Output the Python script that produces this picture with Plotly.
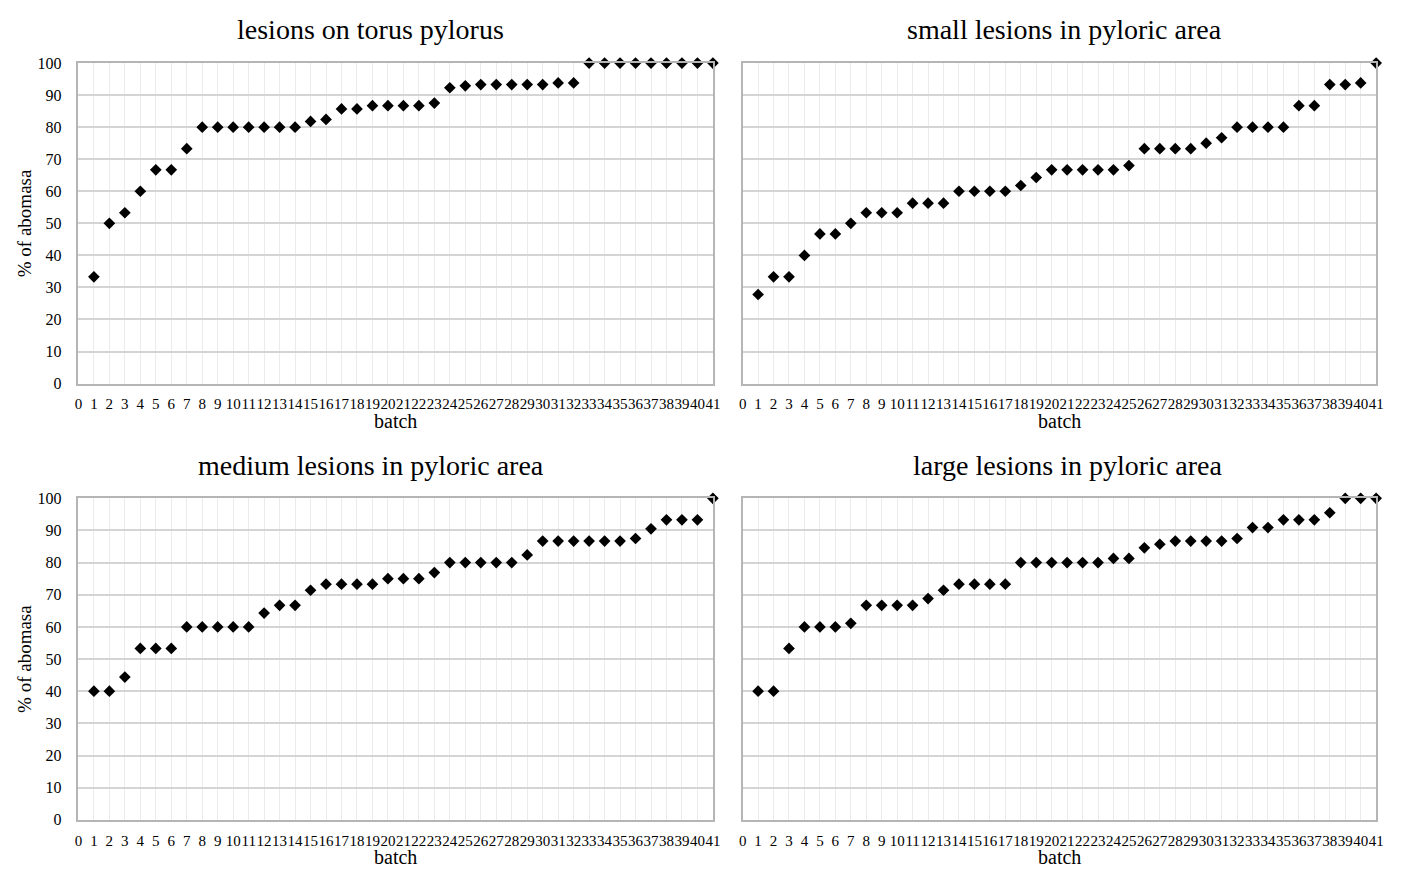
import plotly.graph_objects as go

batches = list(range(1, 42))
x_tick_labels = [str(i) for i in range(0, 42)]
y_tick_values = list(range(0, 101, 10))

titles = [
    "lesions on torus pylorus",
    "small lesions in pyloric area",
    "medium lesions in pyloric area",
    "large lesions in pyloric area",
]

torus_pylorus = [33.3, 50, 53.3, 60, 66.7, 66.7, 73.3, 80, 80, 80, 80, 80, 80, 80,
                 81.8, 82.4, 85.7, 85.7, 86.7, 86.7, 86.7, 86.7, 87.5, 92.3, 92.9,
                 93.3, 93.3, 93.3, 93.3, 93.3, 93.8, 93.8, 100, 100, 100, 100, 100,
                 100, 100, 100, 100]
small_lesions = [27.8, 33.3, 33.3, 40, 46.7, 46.7, 50, 53.3, 53.3, 53.3, 56.3, 56.3,
                 56.3, 60, 60, 60, 60, 61.8, 64.3, 66.7, 66.7, 66.7, 66.7, 66.7, 68,
                 73.3, 73.3, 73.3, 73.3, 75, 76.7, 80, 80, 80, 80, 86.7, 86.7, 93.3,
                 93.3, 93.8, 100]
medium_lesions = [40, 40, 44.4, 53.3, 53.3, 53.3, 60, 60, 60, 60, 60, 64.3, 66.7,
                  66.7, 71.4, 73.3, 73.3, 73.3, 73.3, 75, 75, 75, 76.9, 80, 80, 80,
                  80, 80, 82.4, 86.7, 86.7, 86.7, 86.7, 86.7, 86.7, 87.5, 90.5, 93.3,
                  93.3, 93.3, 100]
large_lesions = [40, 40, 53.3, 60, 60, 60, 61.1, 66.7, 66.7, 66.7, 66.7, 68.8, 71.4,
                 73.3, 73.3, 73.3, 73.3, 80, 80, 80, 80, 80, 80, 81.3, 81.3, 84.6,
                 85.7, 86.7, 86.7, 86.7, 86.7, 87.5, 90.9, 90.9, 93.3, 93.3, 93.3,
                 95.5, 100, 100, 100]

series = [torus_pylorus, small_lesions, medium_lesions, large_lesions]

# the page places the figure 8px from the top-left corner
OFF = 8
W, H = 1408 - 2 * OFF, 877 - 2 * OFF
# plot areas in page pixels: (left, right, top, bottom)
boxes = [
    (75, 715, 56, 383),
    (745, 1384, 56, 383),
    (75, 715, 500, 828),
    (745, 1384, 500, 828),
]
title_pos = [(370, 22), (1070, 22), (370, 467), (1073, 467)]

FONT = "Liberation Serif, Times New Roman, serif"


def px(xp):
    return (xp - OFF) / W


def py(yp):
    return 1 - (yp - OFF) / H


fig = go.Figure()
layout = dict(
    width=W, height=H,
    margin=dict(l=0, r=0, t=0, b=0),
    paper_bgcolor="white", plot_bgcolor="white",
    showlegend=False,
    font=dict(family=FONT, color="black", size=16),
    annotations=[],
)

for i, (vals, title, box, tp) in enumerate(zip(series, titles, boxes, title_pos)):
    n = i + 1
    xa = "xaxis" if n == 1 else f"xaxis{n}"
    ya = "yaxis" if n == 1 else f"yaxis{n}"
    xref = "x" if n == 1 else f"x{n}"
    yref = "y" if n == 1 else f"y{n}"
    l, r, t, b = box
    fig.add_trace(go.Scatter(
        x=batches, y=vals, mode="markers",
        marker=dict(symbol="diamond", size=9, color="black"),
        cliponaxis=False, xaxis=xref, yaxis=yref,
    ))
    layout[xa] = dict(
        domain=[px(l), px(r)], anchor=yref,
        range=[0, 41], tickmode="array",
        tickvals=list(range(0, 42)), ticktext=x_tick_labels,
        tickangle=0, ticks="", ticklabelstandoff=6,
        showgrid=True, gridcolor="#ebebeb", gridwidth=1,
        showline=True, linecolor="#b5b5b5", linewidth=1.5, mirror=True,
        zeroline=False, tickfont=dict(family=FONT, size=15, color="black"),
    )
    layout[ya] = dict(
        domain=[py(b), py(t)], anchor=xref,
        range=[0, 100], tickmode="array", tickvals=y_tick_values,
        ticks="", ticklabelstandoff=12,
        showticklabels=(n % 2 == 1),
        showgrid=True, gridcolor="#d4d4d4", gridwidth=1.5,
        showline=True, linecolor="#b5b5b5", linewidth=1.5, mirror=True,
        zeroline=False, tickfont=dict(family=FONT, size=16, color="black"),
    )
    layout["annotations"].append(dict(
        text=title, x=px(tp[0]), y=py(tp[1]), xref="paper", yref="paper",
        showarrow=False, xanchor="center", yanchor="middle",
        font=dict(family=FONT, size=28, color="black"),
    ))
    layout["annotations"].append(dict(
        text="batch", x=px((l + r) / 2), y=py(b + 38), xref="paper", yref="paper",
        showarrow=False, xanchor="center", yanchor="middle",
        font=dict(family=FONT, size=20, color="black"),
    ))
    if n % 2 == 1:
        layout["annotations"].append(dict(
            text="% of abomasa", x=px(20), y=py((t + b) / 2),
            xref="paper", yref="paper", textangle=-90,
            showarrow=False, xanchor="center", yanchor="middle",
            font=dict(family=FONT, size=19, color="black"),
        ))

fig.update_layout(**layout)
fig.write_html("out.html")
